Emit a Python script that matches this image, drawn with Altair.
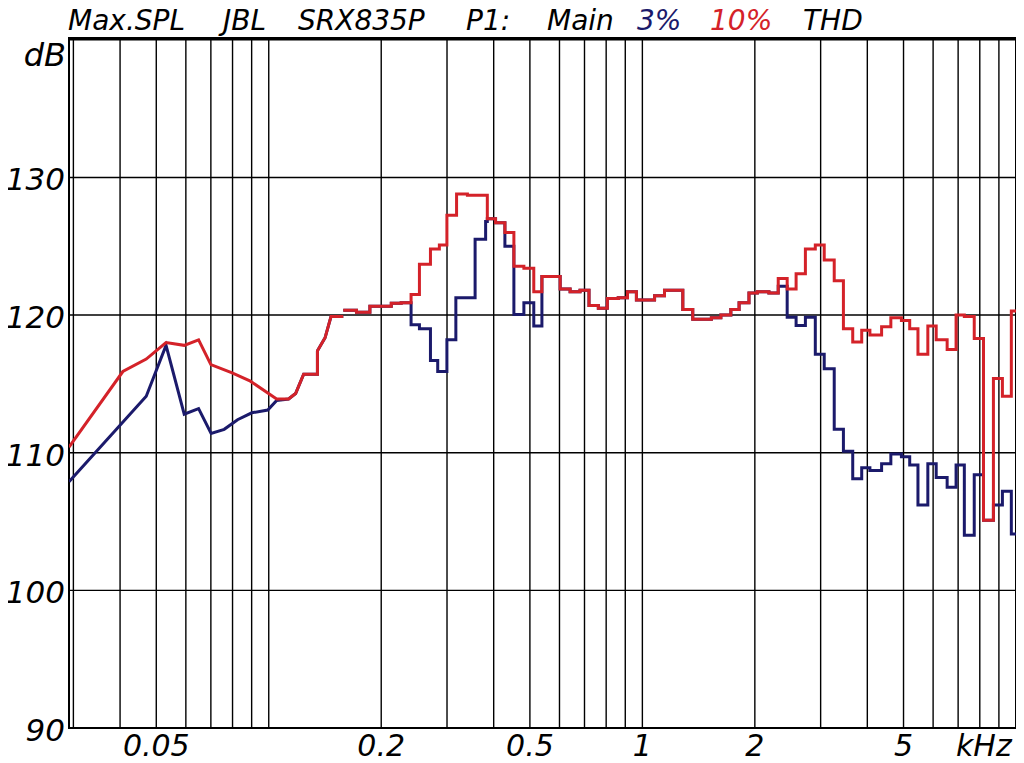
import altair as alt
import pandas as pd

# ---------------- data (kHz, dB) ----------------
# low-frequency part (drawn with straight segments)
red_lin_f = [0.0292, 0.0407, 0.0470, 0.0531, 0.0594, 0.0649, 0.0700, 0.0798, 0.0893,
             0.105, 0.113, 0.118, 0.124, 0.135, 0.135, 0.1415, 0.1468, 0.1583]
red_lin_db = [110.4, 115.9, 116.8, 118.0, 117.8, 118.2, 116.4, 115.8, 115.2,
              113.9, 113.9, 114.3, 115.7, 115.7, 117.4, 118.35, 119.9, 119.9]

blue_lin_f = [0.0292, 0.0470, 0.0531, 0.0594, 0.0649, 0.0701, 0.0760, 0.0825, 0.0901,
              0.0994, 0.105, 0.113, 0.118, 0.124, 0.135, 0.135, 0.1415, 0.1468, 0.1583]
blue_lin_db = [107.9, 114.1, 117.8, 112.8, 113.2, 111.4, 111.7, 112.4, 112.9,
               113.1, 113.8, 113.9, 114.3, 115.7, 115.7, 117.4, 118.35, 119.9, 119.9]

# stepped part (each value holds until the next frequency)
red_step_f = [0.1583, 0.1717, 0.1865, 0.2128, 0.2262, 0.2404, 0.2531, 0.2709, 0.2862, 0.2998,
              0.3182, 0.3402, 0.3846, 0.4046, 0.4286, 0.4530, 0.4818, 0.5121, 0.5384, 0.6026,
              0.6406, 0.6810, 0.7197, 0.7623, 0.8057, 0.8618, 0.9123, 0.9639, 1.078, 1.146,
              1.283, 1.364, 1.530, 1.622, 1.725, 1.815, 1.929, 2.031, 2.181, 2.310,
              2.441, 2.579, 2.731, 2.903, 3.067, 3.262, 3.452, 3.656, 3.864, 4.064,
              4.368, 4.624, 4.935, 5.194, 5.465, 5.808, 6.115, 6.542, 6.912, 7.273,
              7.731, 8.185, 8.701, 9.196, 9.716, 10.0]
red_step_db = [120.35, 120.2, 120.65, 120.85, 120.9, 121.5, 123.7, 124.8, 125.1, 127.25,
               128.8, 128.7, 127.0, 126.7, 126.0, 123.55, 123.4, 121.7, 122.8, 121.9,
               121.7, 121.8, 120.7, 120.5, 121.2, 121.25, 121.7, 121.1, 121.4, 121.8,
               120.4, 119.7, 119.8, 120.0, 120.4, 120.9, 121.6, 121.7, 121.6, 122.65,
               121.9, 123.0, 124.8, 125.1, 124.0, 122.5, 119.0, 118.05, 118.9, 118.55,
               119.15, 119.8, 119.6, 119.0, 117.15, 119.2, 118.2, 117.5, 120.0, 119.9,
               118.3, 105.1, 115.4, 114.1, 120.3, 120.3]

blue_step_f = [0.1583, 0.1717, 0.1865, 0.2128, 0.2262, 0.2404, 0.2531, 0.2709, 0.2833, 0.2998,
               0.3168, 0.3567, 0.3806, 0.3846, 0.4046, 0.4286, 0.4530, 0.4818, 0.5121, 0.5384,
               0.6026, 0.6406, 0.6810, 0.7197, 0.7623, 0.8057, 0.8618, 0.9123, 0.9639, 1.078,
               1.146, 1.283, 1.364, 1.530, 1.622, 1.725, 1.815, 1.929, 2.031, 2.181,
               2.310, 2.441, 2.579, 2.731, 2.903, 3.067, 3.262, 3.452, 3.656, 3.864,
               4.064, 4.368, 4.624, 4.935, 5.194, 5.465, 5.808, 6.115, 6.542, 6.912,
               7.273, 7.731, 8.185, 8.701, 9.196, 9.716, 10.0]
blue_step_db = [120.35, 120.2, 120.65, 120.85, 120.9, 119.3, 119.0, 116.7, 115.9, 118.2,
                121.25, 125.5, 126.8, 127.0, 126.7, 125.0, 120.05, 120.9, 119.2, 122.8,
                121.9, 121.7, 121.8, 120.7, 120.5, 121.2, 121.25, 121.7, 121.1, 121.4,
                121.8, 120.4, 119.7, 119.8, 120.0, 120.4, 120.9, 121.6, 121.7, 121.6,
                122.1, 119.85, 119.25, 119.85, 117.15, 116.1, 111.7, 110.1, 108.1, 108.9,
                108.7, 109.2, 109.9, 109.7, 109.1, 106.2, 109.2, 108.2, 107.5, 109.1,
                104.0, 108.4, 105.1, 106.2, 107.2, 104.1, 104.1]

grid_f = [0.03, 0.04, 0.05, 0.06, 0.07, 0.08, 0.09, 0.1, 0.2, 0.3, 0.4, 0.5, 0.6, 0.7,
          0.8, 0.9, 1, 2, 3, 4, 5, 6, 7, 8, 9]
grid_db = [100, 110, 120, 130, 140]
x_label_vals = [0.05, 0.2, 0.5, 1, 2, 5, 8.2]
x_label_text = ["0.05", "0.2", "0.5", "1", "2", "5", "kHz"]
y_label_vals = [90, 100, 110, 120, 130]
y_label_text = ["90", "100", "110", "120", "130"]

RED = "#d42229"
NAVY = "#1b1a6b"
FONT = "DejaVu Sans"

assert len(red_lin_f) == len(red_lin_db)
assert len(blue_lin_f) == len(blue_lin_db)
assert len(red_step_f) == len(red_step_db)
assert len(blue_step_f) == len(blue_step_db)

PLOT_W, PLOT_H = 947, 690
PAD_L, PAD_T = 61, 30   # plot's top-left corner lands at page (69, 38)


def frame(f, db):
    return pd.DataFrame({"f": f, "db": db, "i": list(range(len(f)))})


xscale = alt.Scale(type="log", domain=[0.0292, 10], nice=False)
yscale = alt.Scale(domain=[90, 140.13], nice=False, zero=False)

vgrid = alt.Chart(pd.DataFrame({"f": grid_f})).mark_rule(color="black", strokeWidth=1.4).encode(
    x=alt.X("f:Q", scale=xscale, axis=None))
hgrid = alt.Chart(pd.DataFrame({"db": grid_db})).mark_rule(color="black", strokeWidth=1.4).encode(
    y=alt.Y("db:Q", scale=yscale, axis=None))

xlabels = alt.Chart(pd.DataFrame({"v": x_label_vals, "t": x_label_text})).mark_text(
    font=FONT, fontStyle="italic", fontSize=30, color="black", align="center",
    baseline="alphabetic").encode(
    x=alt.X("v:Q", scale=xscale, axis=None), y=alt.value(PLOT_H + 28), text="t:N")
ylabels = alt.Chart(pd.DataFrame({"v": y_label_vals, "t": y_label_text})).mark_text(
    font=FONT, fontStyle="italic", fontSize=31, color="black", align="right",
    baseline="alphabetic", dy=13).encode(
    y=alt.Y("v:Q", scale=yscale, axis=None), x=alt.value(-4), text="t:N")


def line(df, color, interp):
    return alt.Chart(df).mark_line(color=color, strokeWidth=3, interpolate=interp, clip=True).encode(
        x=alt.X("f:Q", scale=xscale, axis=None),
        y=alt.Y("db:Q", scale=yscale, axis=None),
        order=alt.Order("i:Q"))


blue_a = line(frame(blue_lin_f, blue_lin_db), NAVY, "linear")
blue_b = line(frame(blue_step_f, blue_step_db), NAVY, "step-after")
red_a = line(frame(red_lin_f, red_lin_db), RED, "linear")
red_b = line(frame(red_step_f, red_step_db), RED, "step-after")


def label(txt, px, py, color="black", size=28, align="left"):
    return alt.Chart(pd.DataFrame({"t": [txt]})).mark_text(
        font=FONT, fontStyle="italic", fontSize=size, color=color, align=align,
        baseline="alphabetic").encode(text="t:N", x=alt.value(px), y=alt.value(py))


title_words = [("Max.SPL", 68, "black"), ("JBL", 223, "black"), ("SRX835P", 298, "black"),
               ("P1:", 466, "black"), ("Main", 547, "black"), ("3%", 637, NAVY),
               ("10%", 710, RED), ("THD", 803, "black")]
texts = [label(w, x - 69, 30 - 38, c) for w, x, c in title_words]
texts.append(label("dB", 66 - 69, 66 - 38, size=32, align="right"))

chart = alt.layer(vgrid, hgrid, blue_a, blue_b, red_a, red_b, xlabels, ylabels, *texts).properties(
    width=PLOT_W, height=PLOT_H,
    autosize=alt.AutoSizeParams(type="none"),
    padding={"left": PAD_L, "top": PAD_T, "right": 0, "bottom": 32},
    background="white",
).configure_view(stroke="black", strokeWidth=2)

chart.save("out.html", embed_options={"renderer": "svg", "actions": False})
